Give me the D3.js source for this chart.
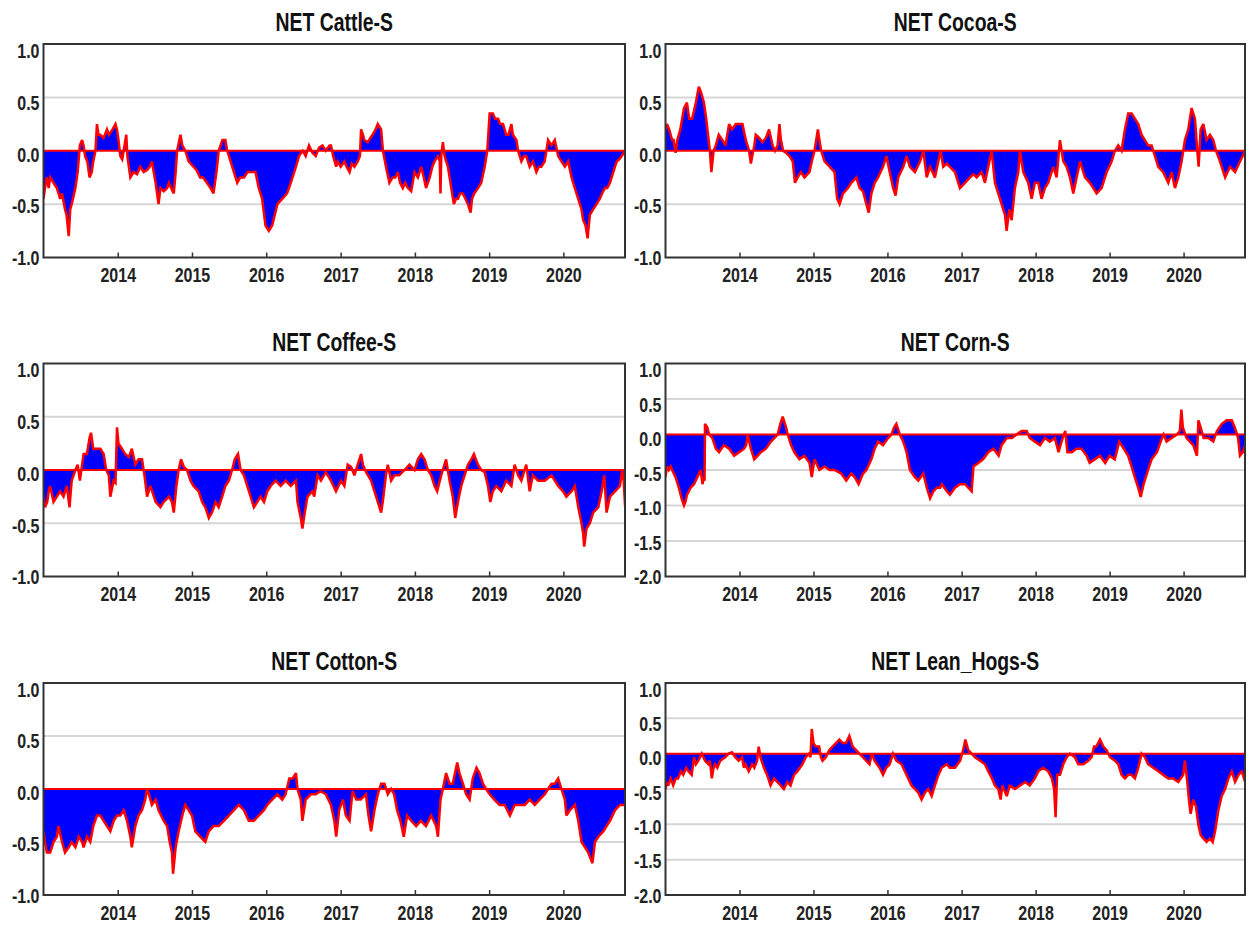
<!DOCTYPE html>
<html>
<head>
<meta charset="utf-8">
<script src="https://cdn.jsdelivr.net/npm/d3@7"></script>
<style>
  body { margin: 0; background: #fff; }
  svg { display: block; }
</style>
</head>
<body>
<svg id="chart" width="1251" height="926"></svg>
<script>
// Net positioning indicators, sampled as [decimal year, value].
const titles = ["NET Cattle-S", "NET Cocoa-S", "NET Coffee-S", "NET Corn-S", "NET Cotton-S", "NET Lean_Hogs-S"];

const cattle = [[2013.00,-0.45],[2013.02,-0.35],[2013.045,-0.25],[2013.07,-0.35],[2013.09,-0.25],[2013.135,-0.3],[2013.18,-0.35],[2013.225,-0.45],[2013.25,-0.4],[2013.29,-0.55],[2013.31,-0.6],[2013.34,-0.8],[2013.36,-0.55],[2013.38,-0.5],[2013.43,-0.35],[2013.46,-0.2],[2013.49,0.05],[2013.52,0.1],[2013.54,0.05],[2013.56,-0.05],[2013.59,-0.1],[2013.62,-0.25],[2013.65,-0.2],[2013.67,-0.1],[2013.70,0.0],[2013.72,0.25],[2013.74,0.15],[2013.765,0.15],[2013.81,0.12],[2013.855,0.2],[2013.88,0.15],[2013.93,0.2],[2013.97,0.25],[2013.99,0.2],[2014.01,0.1],[2014.035,-0.05],[2014.06,-0.08],[2014.08,0.0],[2014.115,0.15],[2014.13,-0.05],[2014.15,-0.15],[2014.17,-0.25],[2014.215,-0.2],[2014.26,-0.22],[2014.305,-0.15],[2014.35,-0.2],[2014.395,-0.18],[2014.43,-0.15],[2014.46,-0.1],[2014.51,-0.3],[2014.55,-0.5],[2014.575,-0.35],[2014.62,-0.38],[2014.665,-0.35],[2014.69,-0.3],[2014.72,-0.35],[2014.755,-0.4],[2014.78,-0.2],[2014.80,0.0],[2014.845,0.15],[2014.87,0.05],[2014.91,0.0],[2014.955,-0.1],[2015.02,-0.15],[2015.06,-0.18],[2015.11,-0.25],[2015.15,-0.25],[2015.20,-0.3],[2015.25,-0.35],[2015.29,-0.4],[2015.33,-0.2],[2015.36,0.0],[2015.41,0.1],[2015.45,0.1],[2015.475,0.0],[2015.52,-0.1],[2015.565,-0.2],[2015.61,-0.3],[2015.65,-0.25],[2015.70,-0.25],[2015.75,-0.2],[2015.79,-0.2],[2015.855,-0.2],[2015.90,-0.35],[2015.945,-0.45],[2015.99,-0.7],[2016.035,-0.75],[2016.08,-0.7],[2016.15,-0.5],[2016.215,-0.45],[2016.28,-0.4],[2016.33,-0.3],[2016.40,-0.15],[2016.44,-0.05],[2016.49,0.0],[2016.53,-0.05],[2016.575,0.05],[2016.62,-0.02],[2016.665,-0.05],[2016.71,0.03],[2016.755,0.05],[2016.80,0.0],[2016.85,0.05],[2016.87,0.05],[2016.90,-0.05],[2016.94,-0.15],[2016.96,-0.1],[2017.00,-0.15],[2017.05,-0.1],[2017.08,-0.15],[2017.12,-0.2],[2017.15,-0.12],[2017.185,-0.15],[2017.23,-0.1],[2017.26,-0.05],[2017.275,0.2],[2017.30,0.15],[2017.32,0.1],[2017.365,0.08],[2017.40,0.12],[2017.43,0.15],[2017.47,0.2],[2017.50,0.25],[2017.545,0.2],[2017.57,0.0],[2017.61,-0.15],[2017.657,-0.3],[2017.70,-0.25],[2017.735,-0.25],[2017.77,-0.2],[2017.80,-0.3],[2017.837,-0.35],[2017.87,-0.3],[2017.905,-0.35],[2017.95,-0.38],[2017.995,-0.2],[2018.04,-0.25],[2018.085,-0.15],[2018.12,-0.25],[2018.15,-0.35],[2018.20,-0.25],[2018.235,-0.15],[2018.265,-0.1],[2018.31,-0.05],[2018.335,-0.1],[2018.345,-0.4],[2018.355,-0.05],[2018.377,0.08],[2018.40,-0.05],[2018.445,-0.15],[2018.49,-0.35],[2018.525,-0.5],[2018.555,-0.45],[2018.58,-0.45],[2018.61,-0.4],[2018.645,-0.4],[2018.68,-0.45],[2018.714,-0.5],[2018.75,-0.58],[2018.77,-0.45],[2018.80,-0.4],[2018.85,-0.35],[2018.894,-0.3],[2018.94,-0.15],[2018.975,0.0],[2019.007,0.35],[2019.05,0.35],[2019.08,0.3],[2019.12,0.3],[2019.15,0.25],[2019.187,0.25],[2019.23,0.15],[2019.26,0.15],[2019.30,0.25],[2019.32,0.15],[2019.367,0.1],[2019.39,0.0],[2019.434,-0.1],[2019.47,-0.05],[2019.50,-0.05],[2019.546,-0.15],[2019.59,-0.1],[2019.636,-0.2],[2019.67,-0.15],[2019.704,-0.15],[2019.749,-0.1],[2019.794,0.1],[2019.84,0.05],[2019.884,0.1],[2019.93,-0.05],[2019.974,-0.1],[2020.02,-0.15],[2020.064,-0.1],[2020.11,-0.25],[2020.154,-0.35],[2020.199,-0.45],[2020.244,-0.55],[2020.266,-0.65],[2020.298,-0.7],[2020.325,-0.82],[2020.356,-0.6],[2020.40,-0.55],[2020.446,-0.5],[2020.49,-0.45],[2020.52,-0.4],[2020.558,-0.35],[2020.59,-0.35],[2020.626,-0.3],[2020.671,-0.2],[2020.716,-0.1],[2020.75,-0.08],[2020.783,-0.05],[2020.83,0.0]];

const cocoa = [[2013.00,0.2],[2013.02,0.25],[2013.05,0.2],[2013.07,0.15],[2013.09,0.1],[2013.11,0.1],[2013.136,-0.02],[2013.16,0.1],[2013.20,0.2],[2013.25,0.4],[2013.29,0.45],[2013.32,0.3],[2013.36,0.3],[2013.41,0.45],[2013.45,0.6],[2013.48,0.55],[2013.52,0.45],[2013.55,0.3],[2013.575,0.15],[2013.60,0.0],[2013.62,-0.2],[2013.65,0.0],[2013.68,0.05],[2013.72,0.15],[2013.77,0.1],[2013.81,0.05],[2013.86,0.25],[2013.90,0.2],[2013.95,0.25],[2013.995,0.25],[2014.04,0.25],[2014.086,0.1],[2014.13,0.0],[2014.154,-0.12],[2014.20,0.05],[2014.22,0.15],[2014.267,0.12],[2014.31,0.08],[2014.357,0.12],[2014.40,0.2],[2014.448,0.05],[2014.48,0.0],[2014.516,0.05],[2014.54,0.25],[2014.56,0.1],[2014.59,0.0],[2014.63,-0.02],[2014.674,-0.05],[2014.72,-0.1],[2014.75,-0.3],[2014.787,-0.25],[2014.83,-0.2],[2014.878,-0.25],[2014.946,-0.2],[2014.977,-0.1],[2015.014,0.0],[2015.06,0.2],[2015.08,0.1],[2015.104,0.0],[2015.15,-0.1],[2015.217,-0.15],[2015.285,-0.2],[2015.32,-0.45],[2015.353,-0.5],[2015.40,-0.4],[2015.466,-0.35],[2015.511,-0.3],[2015.579,-0.25],[2015.624,-0.35],[2015.67,-0.38],[2015.715,-0.5],[2015.747,-0.58],[2015.783,-0.4],[2015.828,-0.3],[2015.873,-0.25],[2015.94,-0.15],[2015.986,-0.05],[2016.03,-0.2],[2016.077,-0.35],[2016.11,-0.42],[2016.145,-0.25],[2016.213,-0.15],[2016.258,-0.05],[2016.303,-0.15],[2016.37,-0.2],[2016.439,-0.1],[2016.484,0.0],[2016.529,-0.25],[2016.575,-0.15],[2016.64,-0.25],[2016.685,-0.1],[2016.716,0.0],[2016.752,-0.15],[2016.80,-0.12],[2016.842,-0.15],[2016.91,-0.2],[2016.977,-0.35],[2017.045,-0.3],[2017.113,-0.25],[2017.16,-0.22],[2017.203,-0.25],[2017.27,-0.2],[2017.315,-0.3],[2017.36,-0.15],[2017.405,0.0],[2017.45,-0.3],[2017.495,-0.4],[2017.54,-0.5],[2017.586,-0.6],[2017.608,-0.75],[2017.644,-0.55],[2017.676,-0.65],[2017.72,-0.35],[2017.766,-0.2],[2017.788,0.0],[2017.833,-0.2],[2017.90,-0.3],[2017.946,-0.45],[2017.99,-0.3],[2018.036,-0.3],[2018.08,-0.45],[2018.126,-0.35],[2018.17,-0.3],[2018.239,-0.15],[2018.284,-0.25],[2018.329,0.1],[2018.374,-0.1],[2018.419,-0.15],[2018.464,-0.25],[2018.509,-0.4],[2018.554,-0.25],[2018.60,-0.1],[2018.667,-0.25],[2018.734,-0.3],[2018.78,-0.35],[2018.824,-0.4],[2018.892,-0.35],[2018.96,-0.2],[2019.027,-0.1],[2019.072,0.0],[2019.117,0.05],[2019.162,0.0],[2019.207,0.2],[2019.252,0.35],[2019.297,0.35],[2019.342,0.3],[2019.387,0.25],[2019.432,0.15],[2019.477,0.1],[2019.52,0.05],[2019.568,0.05],[2019.613,-0.05],[2019.658,-0.15],[2019.725,-0.2],[2019.793,-0.3],[2019.838,-0.2],[2019.883,-0.35],[2019.928,-0.25],[2019.973,-0.1],[2020.018,0.1],[2020.063,0.2],[2020.108,0.4],[2020.153,0.3],[2020.185,0.0],[2020.203,-0.15],[2020.23,0.2],[2020.266,0.25],[2020.31,0.1],[2020.356,0.15],[2020.40,0.1],[2020.437,0.0],[2020.49,-0.1],[2020.56,-0.25],[2020.626,-0.15],[2020.694,-0.2],[2020.76,-0.1],[2020.83,0.0]];

const coffee = [[2013.00,-0.25],[2013.02,-0.35],[2013.05,-0.3],[2013.07,-0.2],[2013.09,-0.15],[2013.135,-0.3],[2013.18,-0.25],[2013.225,-0.2],[2013.27,-0.25],[2013.315,-0.15],[2013.35,-0.35],[2013.38,-0.1],[2013.43,0.0],[2013.46,0.05],[2013.49,-0.1],[2013.52,0.05],[2013.54,0.15],[2013.585,0.15],[2013.62,0.3],[2013.64,0.35],[2013.67,0.2],[2013.72,0.2],[2013.765,0.2],[2013.81,0.15],[2013.845,0.0],[2013.88,-0.05],[2013.90,-0.25],[2013.945,-0.1],[2013.97,-0.12],[2013.99,0.4],[2014.01,0.25],[2014.057,0.2],[2014.10,0.15],[2014.15,0.12],[2014.19,0.2],[2014.237,0.05],[2014.28,0.1],[2014.327,0.1],[2014.36,-0.05],[2014.395,-0.25],[2014.44,-0.15],[2014.51,-0.3],[2014.575,-0.35],[2014.62,-0.3],[2014.69,-0.25],[2014.73,-0.3],[2014.755,-0.4],[2014.79,-0.15],[2014.82,0.0],[2014.853,0.1],[2014.89,0.03],[2014.934,0.0],[2014.98,-0.1],[2015.02,-0.15],[2015.09,-0.2],[2015.137,-0.3],[2015.18,-0.35],[2015.227,-0.45],[2015.27,-0.4],[2015.317,-0.3],[2015.36,-0.35],[2015.407,-0.25],[2015.45,-0.15],[2015.497,-0.1],[2015.54,0.0],[2015.576,0.1],[2015.62,0.15],[2015.655,0.0],[2015.70,-0.05],[2015.744,-0.15],[2015.79,-0.25],[2015.834,-0.35],[2015.88,-0.3],[2015.924,-0.25],[2015.97,-0.3],[2016.014,-0.2],[2016.06,-0.15],[2016.126,-0.1],[2016.194,-0.15],[2016.26,-0.1],[2016.33,-0.15],[2016.40,-0.1],[2016.42,-0.3],[2016.464,-0.45],[2016.486,-0.55],[2016.518,-0.4],[2016.554,-0.25],[2016.62,-0.2],[2016.645,-0.25],[2016.69,-0.05],[2016.735,-0.1],[2016.80,-0.02],[2016.87,-0.1],[2016.937,-0.2],[2017.005,-0.1],[2017.05,-0.15],[2017.095,0.05],[2017.14,0.03],[2017.185,-0.05],[2017.23,0.05],[2017.275,0.15],[2017.30,0.05],[2017.342,-0.02],[2017.41,-0.1],[2017.455,-0.2],[2017.50,-0.3],[2017.545,-0.4],[2017.567,-0.3],[2017.61,-0.05],[2017.635,0.05],[2017.68,-0.1],[2017.725,-0.05],[2017.79,-0.05],[2017.86,0.0],[2017.927,0.05],[2017.995,0.0],[2018.04,0.1],[2018.085,0.15],[2018.13,0.1],[2018.175,0.0],[2018.22,-0.05],[2018.265,-0.15],[2018.30,-0.2],[2018.354,-0.05],[2018.42,0.1],[2018.467,-0.1],[2018.51,-0.25],[2018.543,-0.45],[2018.58,-0.3],[2018.624,-0.15],[2018.67,-0.05],[2018.714,0.05],[2018.76,0.1],[2018.795,0.15],[2018.85,0.05],[2018.894,0.0],[2018.94,-0.02],[2018.984,-0.15],[2019.016,-0.3],[2019.05,-0.2],[2019.097,-0.15],[2019.164,-0.2],[2019.23,-0.1],[2019.30,-0.15],[2019.344,0.05],[2019.39,-0.05],[2019.434,-0.1],[2019.50,0.05],[2019.546,-0.2],[2019.59,-0.05],[2019.66,-0.1],[2019.75,-0.1],[2019.84,-0.05],[2019.93,-0.15],[2019.996,-0.2],[2020.04,-0.25],[2020.11,-0.2],[2020.154,-0.15],[2020.20,-0.35],[2020.244,-0.5],[2020.266,-0.6],[2020.28,-0.72],[2020.31,-0.55],[2020.356,-0.5],[2020.40,-0.4],[2020.469,-0.35],[2020.514,-0.2],[2020.55,-0.05],[2020.58,-0.4],[2020.626,-0.25],[2020.694,-0.2],[2020.76,-0.15],[2020.79,0.0],[2020.81,-0.1],[2020.83,-0.35]];

const corn = [[2013.00,-0.6],[2013.02,-0.45],[2013.045,-0.5],[2013.07,-0.45],[2013.09,-0.5],[2013.136,-0.6],[2013.18,-0.75],[2013.217,-0.9],[2013.25,-1.0],[2013.27,-0.95],[2013.29,-0.85],[2013.34,-0.75],[2013.385,-0.7],[2013.43,-0.6],[2013.475,-0.5],[2013.50,-0.7],[2013.52,-0.6],[2013.528,-0.65],[2013.534,0.15],[2013.566,0.1],[2013.59,0.0],[2013.633,-0.05],[2013.68,-0.2],[2013.724,-0.25],[2013.79,-0.15],[2013.86,-0.2],[2013.928,-0.3],[2013.995,-0.25],[2014.063,-0.2],[2014.09,-0.15],[2014.109,0.0],[2014.154,-0.2],[2014.199,-0.35],[2014.244,-0.3],[2014.29,-0.25],[2014.357,-0.2],[2014.425,-0.1],[2014.47,-0.05],[2014.516,0.0],[2014.552,0.15],[2014.584,0.25],[2014.63,0.1],[2014.652,0.0],[2014.697,-0.15],[2014.742,-0.25],[2014.81,-0.35],[2014.878,-0.3],[2014.946,-0.4],[2014.977,-0.6],[2015.014,-0.35],[2015.08,-0.5],[2015.15,-0.45],[2015.217,-0.5],[2015.285,-0.5],[2015.375,-0.55],[2015.443,-0.65],[2015.51,-0.55],[2015.557,-0.6],[2015.61,-0.7],[2015.67,-0.55],[2015.715,-0.5],[2015.783,-0.35],[2015.828,-0.2],[2015.873,-0.1],[2015.94,-0.15],[2016.008,-0.05],[2016.054,0.0],[2016.09,0.1],[2016.12,0.15],[2016.167,0.0],[2016.213,-0.1],[2016.258,-0.25],[2016.303,-0.5],[2016.37,-0.6],[2016.416,-0.65],[2016.484,-0.55],[2016.53,-0.75],[2016.575,-0.9],[2016.62,-0.8],[2016.665,-0.75],[2016.71,-0.75],[2016.733,-0.7],[2016.80,-0.8],[2016.842,-0.85],[2016.91,-0.75],[2016.977,-0.7],[2017.045,-0.7],[2017.09,-0.75],[2017.135,-0.8],[2017.16,-0.45],[2017.225,-0.4],[2017.29,-0.35],[2017.36,-0.25],[2017.43,-0.2],[2017.50,-0.3],[2017.54,-0.15],[2017.61,-0.05],[2017.68,-0.05],[2017.74,0.0],[2017.81,0.05],[2017.88,0.05],[2017.92,-0.05],[2017.99,-0.1],[2018.06,-0.15],[2018.126,-0.05],[2018.19,-0.1],[2018.26,-0.05],[2018.31,-0.25],[2018.35,-0.1],[2018.40,0.05],[2018.43,-0.25],[2018.49,-0.25],[2018.55,-0.2],[2018.62,-0.2],[2018.69,-0.3],[2018.73,-0.4],[2018.80,-0.35],[2018.87,-0.3],[2018.94,-0.4],[2019.00,-0.3],[2019.07,-0.35],[2019.13,-0.1],[2019.19,-0.2],[2019.25,-0.3],[2019.297,-0.45],[2019.34,-0.6],[2019.387,-0.75],[2019.42,-0.88],[2019.46,-0.7],[2019.52,-0.5],[2019.568,-0.35],[2019.64,-0.25],[2019.69,-0.1],[2019.73,0.0],[2019.77,-0.1],[2019.84,-0.05],[2019.91,0.0],[2019.95,0.05],[2019.97,0.35],[2019.99,0.1],[2020.04,-0.05],[2020.085,-0.1],[2020.13,-0.15],[2020.18,-0.3],[2020.20,0.2],[2020.23,0.1],[2020.27,-0.05],[2020.335,-0.05],[2020.40,-0.1],[2020.45,0.05],[2020.515,0.15],[2020.58,0.2],[2020.65,0.2],[2020.69,0.1],[2020.735,-0.05],[2020.76,-0.3],[2020.80,-0.25],[2020.83,-0.15]];

const cotton = [[2013.00,-0.4],[2013.02,-0.5],[2013.045,-0.6],[2013.09,-0.6],[2013.135,-0.5],[2013.18,-0.45],[2013.20,-0.35],[2013.25,-0.5],[2013.29,-0.6],[2013.34,-0.55],[2013.38,-0.5],[2013.43,-0.55],[2013.475,-0.45],[2013.52,-0.5],[2013.54,-0.55],[2013.585,-0.45],[2013.63,-0.5],[2013.67,-0.35],[2013.72,-0.25],[2013.765,-0.25],[2013.81,-0.3],[2013.855,-0.35],[2013.90,-0.4],[2013.945,-0.3],[2013.99,-0.25],[2014.035,-0.25],[2014.08,-0.2],[2014.125,-0.3],[2014.17,-0.45],[2014.19,-0.55],[2014.237,-0.35],[2014.28,-0.25],[2014.327,-0.2],[2014.37,-0.1],[2014.395,0.0],[2014.42,-0.05],[2014.46,-0.15],[2014.51,-0.1],[2014.55,-0.2],[2014.62,-0.3],[2014.665,-0.35],[2014.70,-0.5],[2014.73,-0.6],[2014.745,-0.8],[2014.78,-0.55],[2014.82,-0.4],[2014.87,-0.25],[2014.91,-0.15],[2014.955,-0.2],[2015.00,-0.25],[2015.045,-0.4],[2015.11,-0.45],[2015.18,-0.5],[2015.225,-0.4],[2015.29,-0.35],[2015.36,-0.35],[2015.43,-0.3],[2015.50,-0.25],[2015.565,-0.2],[2015.63,-0.15],[2015.70,-0.2],[2015.765,-0.3],[2015.834,-0.3],[2015.90,-0.25],[2015.97,-0.2],[2016.014,-0.15],[2016.08,-0.1],[2016.15,-0.05],[2016.215,-0.1],[2016.26,-0.05],[2016.31,0.1],[2016.355,0.1],[2016.40,0.15],[2016.42,0.0],[2016.464,-0.1],[2016.486,-0.3],[2016.53,-0.1],[2016.60,-0.05],[2016.665,-0.05],[2016.73,-0.02],[2016.80,-0.05],[2016.87,-0.15],[2016.915,-0.3],[2016.94,-0.45],[2016.98,-0.2],[2017.03,-0.1],[2017.07,-0.25],[2017.12,-0.3],[2017.16,-0.02],[2017.21,-0.1],[2017.27,-0.1],[2017.34,-0.05],[2017.375,-0.25],[2017.41,-0.4],[2017.455,-0.2],[2017.50,-0.05],[2017.545,0.05],[2017.59,0.05],[2017.635,-0.05],[2017.68,0.0],[2017.72,-0.05],[2017.76,-0.2],[2017.805,-0.3],[2017.85,-0.45],[2017.895,-0.25],[2017.95,-0.3],[2018.017,-0.35],[2018.08,-0.3],[2018.15,-0.35],[2018.22,-0.25],[2018.287,-0.35],[2018.31,-0.45],[2018.345,-0.1],[2018.377,0.0],[2018.42,0.15],[2018.467,0.05],[2018.51,0.05],[2018.57,0.25],[2018.60,0.15],[2018.647,0.05],[2018.69,-0.05],[2018.737,-0.1],[2018.78,0.1],[2018.83,0.2],[2018.87,0.15],[2018.917,0.05],[2018.96,0.0],[2019.007,-0.05],[2019.07,-0.1],[2019.14,-0.15],[2019.21,-0.15],[2019.28,-0.25],[2019.344,-0.15],[2019.41,-0.15],[2019.48,-0.15],[2019.546,-0.1],[2019.614,-0.15],[2019.68,-0.1],[2019.75,-0.05],[2019.794,0.0],[2019.84,0.05],[2019.884,0.05],[2019.93,0.1],[2019.974,0.0],[2020.02,-0.1],[2020.04,-0.25],[2020.087,-0.2],[2020.154,-0.15],[2020.20,-0.3],[2020.244,-0.5],[2020.29,-0.55],[2020.334,-0.6],[2020.39,-0.7],[2020.424,-0.5],[2020.47,-0.45],[2020.536,-0.4],[2020.58,-0.35],[2020.626,-0.3],[2020.694,-0.2],[2020.76,-0.15],[2020.83,-0.15]];

const leanHogs = [[2013.00,-0.5],[2013.02,-0.4],[2013.036,-0.45],[2013.07,-0.35],[2013.104,-0.45],[2013.14,-0.35],[2013.17,-0.35],[2013.21,-0.25],[2013.24,-0.3],[2013.28,-0.2],[2013.31,-0.25],[2013.354,-0.3],[2013.385,-0.05],[2013.41,-0.15],[2013.444,-0.1],[2013.49,0.0],[2013.535,-0.1],[2013.58,-0.15],[2013.60,-0.1],[2013.626,-0.35],[2013.65,-0.2],[2013.67,-0.15],[2013.70,-0.2],[2013.74,-0.1],[2013.807,-0.05],[2013.853,0.0],[2013.898,0.02],[2013.943,-0.05],[2013.989,-0.1],[2014.034,-0.05],[2014.06,-0.2],[2014.08,-0.15],[2014.125,-0.25],[2014.17,-0.15],[2014.20,-0.2],[2014.238,-0.1],[2014.26,0.1],[2014.283,-0.05],[2014.33,-0.2],[2014.374,-0.3],[2014.42,-0.45],[2014.465,-0.35],[2014.51,-0.4],[2014.556,-0.45],[2014.60,-0.5],[2014.646,-0.4],[2014.69,-0.45],[2014.737,-0.3],[2014.782,-0.25],[2014.85,-0.15],[2014.896,-0.05],[2014.94,0.0],[2014.96,-0.05],[2014.977,0.35],[2015.00,0.15],[2015.03,0.1],[2015.077,0.1],[2015.10,-0.05],[2015.122,-0.1],[2015.168,-0.05],[2015.213,0.05],[2015.258,0.1],[2015.304,0.15],[2015.35,0.2],[2015.395,0.15],[2015.44,0.15],[2015.485,0.25],[2015.53,0.1],[2015.576,0.05],[2015.62,0.0],[2015.667,-0.05],[2015.712,-0.1],[2015.757,-0.15],[2015.79,0.0],[2015.825,-0.1],[2015.893,-0.2],[2015.94,-0.3],[2015.984,-0.2],[2016.03,-0.15],[2016.075,0.0],[2016.12,-0.1],[2016.19,-0.15],[2016.234,-0.25],[2016.28,-0.35],[2016.324,-0.45],[2016.37,-0.5],[2016.415,-0.55],[2016.46,-0.65],[2016.506,-0.55],[2016.55,-0.5],[2016.596,-0.6],[2016.64,-0.45],[2016.687,-0.3],[2016.732,-0.2],[2016.80,-0.15],[2016.84,-0.2],[2016.91,-0.2],[2016.98,-0.1],[2017.02,0.05],[2017.05,0.2],[2017.09,0.05],[2017.135,0.0],[2017.18,-0.05],[2017.25,-0.1],[2017.315,-0.15],[2017.36,-0.25],[2017.41,-0.35],[2017.45,-0.45],[2017.495,-0.5],[2017.527,-0.65],[2017.55,-0.45],[2017.61,-0.6],[2017.65,-0.45],[2017.72,-0.5],[2017.79,-0.45],[2017.86,-0.4],[2017.92,-0.45],[2017.99,-0.35],[2018.036,-0.25],[2018.10,-0.2],[2018.17,-0.25],[2018.22,-0.35],[2018.25,-0.5],[2018.27,-0.9],[2018.29,-0.3],[2018.33,-0.3],[2018.374,-0.15],[2018.42,-0.05],[2018.464,0.0],[2018.53,-0.05],[2018.577,-0.15],[2018.645,-0.15],[2018.71,-0.1],[2018.757,-0.05],[2018.79,0.1],[2018.82,0.1],[2018.87,0.2],[2018.915,0.1],[2018.96,0.05],[2019.005,-0.05],[2019.072,-0.1],[2019.117,-0.15],[2019.162,-0.3],[2019.207,-0.35],[2019.252,-0.3],[2019.297,-0.3],[2019.342,-0.35],[2019.387,-0.2],[2019.432,0.0],[2019.477,-0.05],[2019.52,-0.15],[2019.59,-0.2],[2019.658,-0.25],[2019.725,-0.3],[2019.793,-0.35],[2019.86,-0.35],[2019.928,-0.4],[2019.995,-0.3],[2020.018,-0.1],[2020.05,-0.4],[2020.077,-0.7],[2020.095,-0.85],[2020.13,-0.65],[2020.167,-0.75],[2020.198,-1.0],[2020.23,-1.15],[2020.266,-1.2],[2020.31,-1.25],[2020.356,-1.2],[2020.392,-1.25],[2020.424,-1.1],[2020.469,-0.8],[2020.514,-0.6],[2020.56,-0.5],[2020.604,-0.35],[2020.65,-0.25],[2020.694,-0.4],[2020.74,-0.3],[2020.784,-0.25],[2020.83,-0.4]];

// Axis ticks and labels
const yTicksNarrow = [1.0, 0.5, 0.0, -0.5, -1.0];
const yLabelsNarrow = ["1.0", "0.5", "0.0", "-0.5", "-1.0"];
const yTicksWide = [1.0, 0.5, 0.0, -0.5, -1.0, -1.5, -2.0];
const yLabelsWide = ["1.0", "0.5", "0.0", "-0.5", "-1.0", "-1.5", "-2.0"];
const xTickYears = [2014, 2015, 2016, 2017, 2018, 2019, 2020];
const xStart = "2013-01-01", xEnd = "2020-10-30";

const seriesList = [cattle, cocoa, coffee, corn, cotton, leanHogs];
const wideRange = [false, false, false, true, false, true];

// Panel geometry
const cols = [[43.5, 625], [665.5, 1245]];
const rows = [[44, 257.5], [363.5, 576.5], [683, 895]];
const FONT = "'Liberation Sans', Arial, Helvetica, sans-serif";
const TEXT_SY = 1.27, TITLE_SY = 1.36;

function toDate(t) {
  const y = Math.floor(t);
  const s = Date.UTC(y, 0, 1), e = Date.UTC(y + 1, 0, 1);
  return new Date(s + (t - y) * (e - s));
}

const svg = d3.select("#chart");

seriesList.forEach((series, i) => {
  const [x0, x1] = cols[i % 2];
  const [top, bottom] = rows[Math.floor(i / 2)];
  const wide = wideRange[i];
  const yTicks = wide ? yTicksWide : yTicksNarrow;
  const yLabels = wide ? yLabelsWide : yLabelsNarrow;

  const x = d3.scaleUtc().domain([new Date(xStart), new Date(xEnd)]).range([x0, x1]);
  const y = d3.scaleLinear().domain(wide ? [-2, 1] : [-1, 1]).range([bottom, top]);

  const g = svg.append("g");
  const clipId = "clip" + i;
  g.append("clipPath").attr("id", clipId).append("rect")
    .attr("x", x0).attr("y", top).attr("width", x1 - x0).attr("height", bottom - top);

  // gridlines
  g.append("g").selectAll("line")
    .data(yTicks.filter(v => v !== 0 && v !== d3.max(yTicks) && v !== d3.min(yTicks)))
    .join("line")
    .attr("x1", x0).attr("x2", x1)
    .attr("y1", d => y(d)).attr("y2", d => y(d))
    .attr("stroke", "#d6d6d6").attr("stroke-width", 2);

  const pts = series.map(d => ({ date: toDate(d[0]), v: d[1] }));

  const area = d3.area()
    .x(d => x(d.date)).y0(y(0)).y1(d => y(d.v));
  const line = d3.line()
    .x(d => x(d.date)).y(d => y(d.v));

  const plot = g.append("g").attr("clip-path", `url(#${clipId})`);
  plot.append("path").datum(pts).attr("d", area).attr("fill", "#0000ff");
  plot.append("path").datum(pts).attr("d", line)
    .attr("fill", "none").attr("stroke", "#ff0000")
    .attr("stroke-width", 2.5).attr("stroke-linejoin", "miter").attr("stroke-miterlimit", 3);
  plot.append("line")
    .attr("x1", x0).attr("x2", x1).attr("y1", y(0)).attr("y2", y(0))
    .attr("stroke", "#ff0000").attr("stroke-width", 2);

  // bottom axis: ticks point into the plot
  const xAxis = d3.axisBottom(x)
    .tickValues(xTickYears.map(yr => new Date(Date.UTC(yr, 0, 1))))
    .tickFormat(d3.utcFormat("%Y"))
    .tickSizeInner(-5).tickSizeOuter(0);
  const xg = g.append("g").attr("transform", `translate(0,${bottom})`).call(xAxis);
  xg.select(".domain").remove();
  xg.selectAll(".tick line").attr("stroke", "#333").attr("stroke-width", 1.5);
  xg.selectAll(".tick text")
    .attr("y", null).attr("dy", null)
    .attr("transform", `translate(0,24.5) scale(1,${TEXT_SY})`)
    .attr("fill", "#222")
    .style("font-family", FONT).style("font-size", "16px").style("font-weight", "bold");

  // left axis labels
  const yAxis = d3.axisLeft(y)
    .tickValues(yTicks)
    .tickFormat((d, k) => yLabels[k])
    .tickSize(0);
  const yg = g.append("g").attr("transform", `translate(${x0},0)`).call(yAxis);
  yg.select(".domain").remove();
  yg.selectAll(".tick text")
    .attr("x", null).attr("dy", null)
    .attr("transform", d => {
      const shift = 6 * (bottom - y(d)) / (bottom - top);
      return `translate(-4,${shift}) scale(1,${TEXT_SY})`;
    })
    .attr("dy", "0.36em")
    .attr("text-anchor", "end")
    .attr("fill", "#222")
    .style("font-family", FONT).style("font-size", "16px").style("font-weight", "bold");

  // frame
  g.append("rect")
    .attr("x", x0).attr("y", top).attr("width", x1 - x0).attr("height", bottom - top)
    .attr("fill", "none").attr("stroke", "#333").attr("stroke-width", 2);

  // title
  g.append("text")
    .attr("transform", `translate(${(x0 + x1) / 2},${top - 12.8}) scale(1,${TITLE_SY})`)
    .attr("text-anchor", "middle")
    .attr("fill", "#111")
    .style("font-family", FONT).style("font-size", "19.4px").style("font-weight", "bold")
    .text(titles[i]);
});
</script>
</body>
</html>
